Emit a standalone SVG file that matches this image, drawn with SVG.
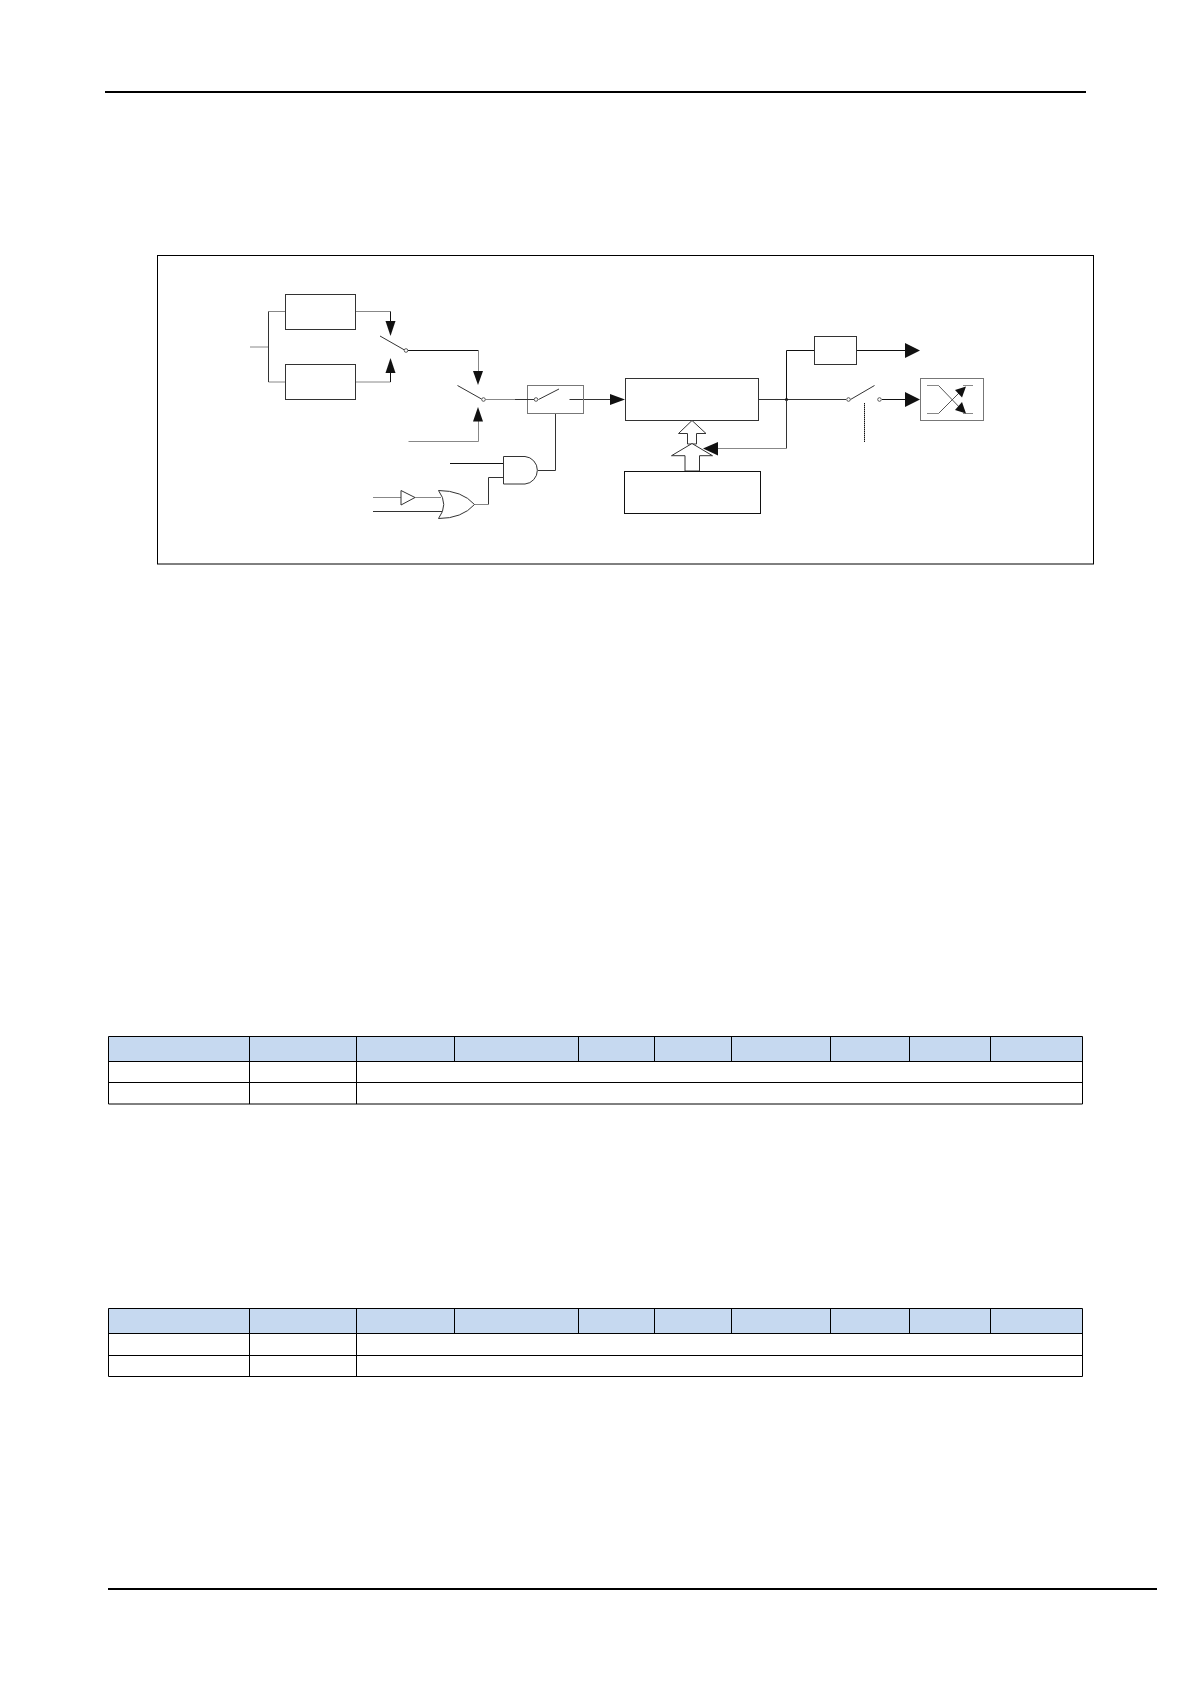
<svg xmlns="http://www.w3.org/2000/svg" width="1191" height="1684" viewBox="0 0 1191 1684">
<style>
.box{fill:#fff;stroke:#333;stroke-width:1}
.lb{fill:#fff;stroke:#777;stroke-width:1}
.w{fill:none;stroke:#333;stroke-width:1}
.g{fill:none;stroke:#888;stroke-width:1}
.k{fill:none;stroke:#111;stroke-width:1}
.x{fill:none;stroke:#555;stroke-width:1}
.h{fill:#111;stroke:none}
.dot{fill:#fff;stroke:#333;stroke-width:.8}
.tl{stroke:#000;stroke-width:1;fill:none}
.hd{fill:#c6d9f0}
</style>
<rect width="1191" height="1684" fill="#fff"/>
<g id="page-rules">
<line x1="105" y1="92" x2="1086" y2="92" stroke="#000" stroke-width="2"/>
<line x1="108" y1="1589" x2="1157" y2="1589" stroke="#000" stroke-width="2"/>
</g>
<g id="frame"><rect x="157.500" y="255.500" width="936" height="308.500" fill="none" stroke="#000" stroke-width="1"/></g>

<g id="connectors">
<path class="g" d="M250 347H268.500M268.500 311.500H285.500M268.500 382H285.500"/>
<path class="w" d="M268.500 311.500V382"/>
<path class="g" d="M356 311.500H390.500"/>
<path class="k" d="M390.500 311.500V322"/>
<path class="h" d="M385.500 321H395.500L390.500 336Z"/>
<path class="g" d="M356 382H390.500"/>
<path class="k" d="M390.500 372V382"/>
<path class="h" d="M385.500 373H395.500L390.500 358Z"/>
<path class="k" d="M408 350.500H478.500"/>
<path class="g" d="M478.500 350.500V372"/>
<path class="h" d="M473 371H483L478 385Z"/>
<path class="g" d="M485.500 399.500H515"/>
<path class="w" d="M515 399.500H534"/>
<path class="w" d="M569.500 399.500H611"/>
<path class="h" d="M610 394V405L625 399.500Z"/>
<path class="g" d="M408.500 441.500H478.500V421"/>
<path class="h" d="M473 421.500H483L478 407Z"/>
<path class="w" d="M555.500 413.500V470.500H538"/>
<path class="k" d="M450 463.500H503"/>
<path class="w" d="M503.500 477.500H488.500V504.500"/>
<path class="g" d="M488.500 504.500H474.500"/>
<path class="g" d="M373 497.500H401" stroke-width="1.300"/>
<path class="g" d="M415 497.500H441" stroke-width="1.300"/>
<path class="w" d="M373 511.500H442"/>
<path class="w" d="M758.500 399.500H846"/>
<path class="k" d="M786.500 399.500V350.500H814.500"/>
<path class="k" d="M856.500 350.500H906"/>
<path class="h" d="M905 343V358L920 350.500Z"/>
<circle class="h" cx="786.500" cy="399.500" r="1.500"/>
<path class="w" d="M786.500 399.500V448.500"/>
<path class="g" d="M786.500 448.500H717" stroke-width="2"/>
<path class="h" d="M718 442V455.500L703 448.500Z"/>
<path class="k" d="M882 399.500H906"/>
<path class="h" d="M905 392V407L920 399.500Z"/>
<path class="k" d="M864.500 403V442" stroke-dasharray="1.500 .5" stroke-width="1.200"/>
</g>

<g id="mux-a"><rect class="box" x="285.500" y="294.500" width="70" height="35"/></g>
<g id="mux-b"><rect class="box" x="285.500" y="364.500" width="70" height="35"/></g>
<g id="switch-1">
<path class="w" d="M380 336L404.500 350"/>
<circle class="dot" cx="406" cy="350.500" r="1.800"/>
</g>
<g id="switch-2">
<path class="w" d="M457.500 385.500L481.500 399"/>
<circle class="dot" cx="483.500" cy="399.500" r="1.800"/>
</g>
<g id="gate-switch">
<rect class="lb" x="527.500" y="385.500" width="56" height="28"/>
<path class="w" d="M515 399.500H534M569.500 399.500H583M538.500 399.500L559 389"/>
<circle class="dot" cx="536" cy="399.500" r="1.800"/>
</g>
<g id="and-gate"><path class="box" d="M503.500 456.500H525A13.500 13.800 0 0 1 525 484H503.500Z"/></g>
<g id="not-gate"><path class="box" d="M401 490.500V505L415 497.500Z"/></g>
<g id="or-gate"><path class="box" d="M438.500 490.500Q462 490.500 474.500 504.500Q462 518.500 438.500 518.500Q449 504.500 438.500 490.500Z"/></g>
<g id="main-block"><rect class="box" x="625.500" y="378.500" width="133" height="42"/></g>
<g id="hollow-upper"><path class="box" d="M692 420.500L678.500 433.500H687.500V444H696.500V433.500H706Z"/></g>
<g id="hollow-lower"><path class="box" d="M692 443.500L671.500 455.700H685V471H699.500V455.700H712.500Z"/></g>
<g id="lower-block"><rect x="624.500" y="471.500" width="136" height="42" fill="#fff" stroke="#111"/></g>
<g id="small-block"><rect class="box" x="814.500" y="336.500" width="42" height="28"/></g>
<g id="switch-3">
<path class="w" d="M850.500 399.500L874.500 385.500"/>
<circle class="dot" cx="848.500" cy="399.500" r="1.800"/>
<circle class="dot" cx="879.500" cy="399.500" r="1.800"/>
</g>
<g id="swap-block">
<rect class="lb" x="920.500" y="378.500" width="63" height="42"/>
<path class="g" d="M927 385.500H938.500M927 413.500H938.500M963 385.500H973M963 413.500H973"/>
<path class="x" d="M938.500 385.500L964 412M938.500 413.500L964 388"/>
<path class="h" d="M966 386.500L955 390L962 397.500Z"/>
<path class="h" d="M966 413.500L955 410L962 402Z"/>
</g>

<g id="table-1">
<rect class="hd" x="108" y="1036" width="974" height="25"/>
<path class="tl" d="M108.500 1036.500H1082.500V1104H108.500ZM108.500 1061.500H1082.500M108.500 1082.500H1082.500M249.500 1036.500V1104M356.500 1036.500V1104M454.500 1036.500V1061.500M578.500 1036.500V1061.500M654.500 1036.500V1061.500M731.500 1036.500V1061.500M830.500 1036.500V1061.500M909.500 1036.500V1061.500M990.500 1036.500V1061.500"/>
</g>
<g id="table-2">
<rect class="hd" x="108" y="1308" width="974" height="25"/>
<path class="tl" d="M108.500 1308.500H1082.500V1376.500H108.500ZM108.500 1333.500H1082.500M108.500 1355.500H1082.500M249.500 1308.500V1376.500M356.500 1308.500V1376.500M454.500 1308.500V1333.500M578.500 1308.500V1333.500M654.500 1308.500V1333.500M731.500 1308.500V1333.500M830.500 1308.500V1333.500M909.500 1308.500V1333.500M990.500 1308.500V1333.500"/>
</g>
</svg>
